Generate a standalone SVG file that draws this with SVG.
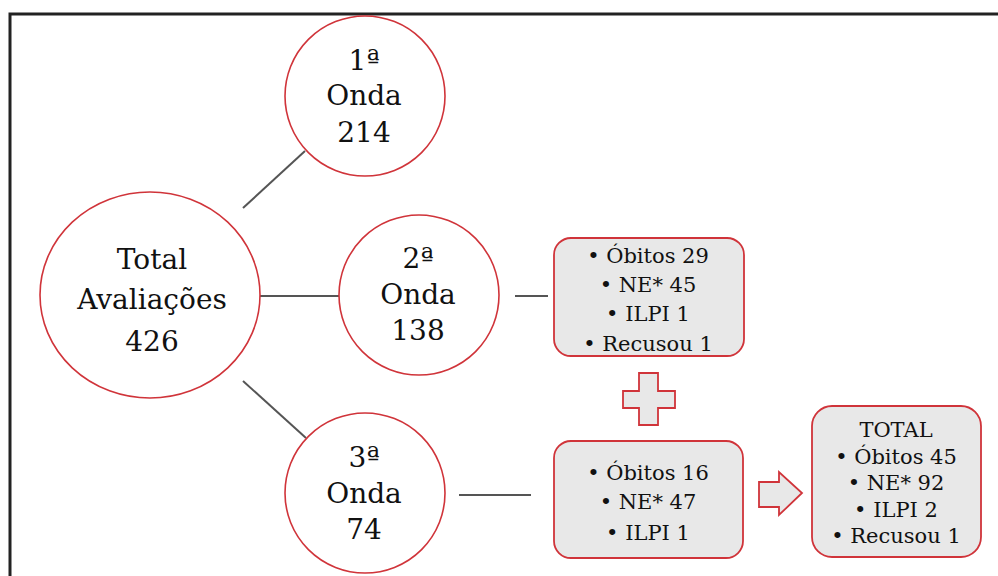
<svg xmlns="http://www.w3.org/2000/svg" width="998" height="576" viewBox="0 0 998 576">
<style>
.circ{fill:#fff;stroke:#d0343a;stroke-width:1.6}
.box{fill:#e8e8e8;stroke:#d0343a;stroke-width:1.8}
.shape{fill:#e8e8e8;stroke:#d0343a;stroke-width:1.8}
.ct{font-family:"DejaVu Serif","Liberation Serif",serif;font-size:28px;fill:#111;text-anchor:middle}
.bt{font-family:"DejaVu Serif","Liberation Serif",serif;font-size:21px;fill:#111;text-anchor:middle}
.conn{stroke:#555;stroke-width:2;fill:none}
</style>
<rect width="998" height="576" fill="#fff"/>
<path d="M10,1000 V14 H1000" fill="none" stroke="#222" stroke-width="3"/>
<g id="connectors">
<line class="conn" x1="243" y1="208" x2="305" y2="151"/>
<line class="conn" x1="260" y1="296" x2="339" y2="296"/>
<line class="conn" x1="243" y1="381" x2="306" y2="438"/>
<line class="conn" x1="515" y1="296" x2="548" y2="296"/>
<line class="conn" x1="459" y1="495" x2="531" y2="495"/>
</g>
<g id="total">
<ellipse class="circ" cx="150" cy="295" rx="110" ry="103"/>
<text class="ct" x="152" y="269">Total</text>
<text class="ct" x="152" y="309">Avaliações</text>
<text class="ct" x="152" y="351">426</text>
</g>
<g id="onda1">
<circle class="circ" cx="365" cy="96" r="80"/>
<text class="ct" x="364" y="70">1ª</text>
<text class="ct" x="364" y="105">Onda</text>
<text class="ct" x="364" y="142">214</text>
</g>
<g id="onda2">
<circle class="circ" cx="419" cy="295" r="80"/>
<text class="ct" x="418" y="268">2ª</text>
<text class="ct" x="418" y="304">Onda</text>
<text class="ct" x="418" y="340">138</text>
</g>
<g id="onda3">
<circle class="circ" cx="365" cy="493" r="80"/>
<text class="ct" x="364" y="467">3ª</text>
<text class="ct" x="364" y="503">Onda</text>
<text class="ct" x="364" y="539">74</text>
</g>
<g id="box2">
<rect class="box" x="554" y="238" width="190" height="118" rx="17"/>
<text class="bt" x="648" y="263">• Óbitos 29</text>
<text class="bt" x="648" y="292">• NE* 45</text>
<text class="bt" x="648" y="321">• ILPI 1</text>
<text class="bt" x="648" y="351">• Recusou 1</text>
</g>
<g id="plus">
<path class="shape" d="M639,373 H658 V391 H675 V408 H658 V425 H639 V408 H623 V391 H639 Z"/>
</g>
<g id="box3">
<rect class="box" x="554" y="441" width="189" height="117" rx="17"/>
<text class="bt" x="648" y="480">• Óbitos 16</text>
<text class="bt" x="648" y="509">• NE* 47</text>
<text class="bt" x="648" y="540">• ILPI 1</text>
</g>
<g id="arrow">
<path class="shape" d="M759,482 H779 V472 L802,493 L779,515 V507 H759 Z"/>
</g>
<g id="totalbox">
<rect class="box" x="812" y="406" width="169" height="151" rx="20"/>
<text class="bt" x="896" y="437">TOTAL</text>
<text class="bt" x="896" y="464">• Óbitos 45</text>
<text class="bt" x="896" y="490">• NE* 92</text>
<text class="bt" x="896" y="517">• ILPI 2</text>
<text class="bt" x="896" y="543">• Recusou 1</text>
</g>
</svg>
